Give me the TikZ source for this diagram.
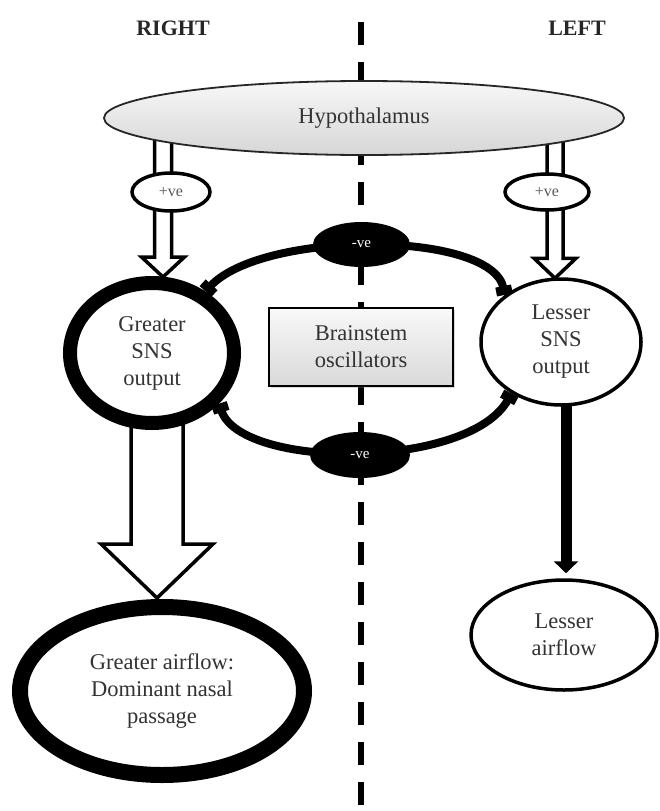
\documentclass[tikz,border=0pt]{standalone}
\usepackage{fontspec}
\setmainfont{Liberation Serif}
\usetikzlibrary{arrows.meta,shapes.geometric,calc,shadows}
\pgfdeclarelayer{bg}
\pgfdeclarelayer{paper}
\pgfsetlayers{paper,bg,main}
\begin{document}
\begin{tikzpicture}[x=1pt,y=-1pt,
  txt/.style={font=\fontsize{22.5}{27}\selectfont, text=black!80, align=center},
  oval/.style={ellipse, draw, inner sep=0pt, fill=white},
  posve/.style={oval, line width=3.5pt, font=\fontsize{16}{18}\selectfont, text=black!65},
  negve/.style={ellipse, fill=black, inner sep=0pt, text=white, font=\fontsize{15}{17}\selectfont},
  hollow/.style={draw, line width=3.5pt, fill=white, line join=miter},
  fbloop/.style={line width=8pt, {Rectangle[length=9pt,width=16pt]}-{Rectangle[length=9pt,width=16pt]}},
  side/.style={font=\fontsize{22}{26}\selectfont\bfseries, text=black!85},
  divider/.style={line width=6pt, dash pattern=on 23pt off 17pt}
]
\useasboundingbox (0,0) rectangle (660,811);
\begin{pgfonlayer}{paper}
\fill[white] (0,0) rectangle (660,811);
\end{pgfonlayer}
\coordinate (midtop) at (361,22);
\coordinate (midbot) at (361,811);
\coordinate (axL) at (163,0);
\coordinate (axR) at (555,0);
\coordinate (axB) at (157,0);
\coordinate (axS) at (566,0);

\node[side] (rightlbl) at (173,28) {RIGHT};
\node[side] (leftlbl) at (577,28) {LEFT};

\node[ellipse, draw=black!85, line width=1.8pt, top color=gray!6, bottom color=gray!32,
      minimum width=520pt, minimum height=74pt, inner sep=0pt, txt] (hyp) at (364,118) {Hypothalamus};

\node[oval, line width=14pt, minimum width=164pt, minimum height=140pt, txt] (gsns) at (152,353) {Greater\\SNS\\output};
\node[oval, line width=3.5pt, minimum width=160pt, minimum height=126pt, txt] (lsns) at (561,342) {Lesser\\SNS\\output};
\node[oval, line width=16pt, minimum width=284pt, minimum height=168pt, txt] (gair) at (162,691) {Greater airflow:\\Dominant nasal\\passage};
\node[oval, line width=3.5pt, minimum width=186pt, minimum height=110pt, txt] (lair) at (564,635) {Lesser\\airflow};

\node[draw, line width=1.8pt, top color=gray!5, bottom color=gray!30, minimum width=184pt, minimum height=78pt,
      drop shadow={shadow xshift=2pt, shadow yshift=-2pt, opacity=0.3}, txt] (bso) at (361,347) {Brainstem\\oscillators};

\node[posve, minimum width=78pt, minimum height=38pt] (posL) at (171,192) {+ve};
\node[posve, minimum width=84pt, minimum height=36pt] (posR) at (547,192) {+ve};

\begin{pgfonlayer}{bg}
\draw[divider] (midtop) -- (midbot);
% hypothalamus -> greater SNS
\draw[hollow] ($(hyp.center -| axL)+(-8.5,0)$) -- ($(gsns.north -| axL)+(-8.5,-19)$) -- ++(-13,0)
   -- ($(gsns.north -| axL)+(0,1)$) -- ($(gsns.north -| axL)+(21.5,-19)$) -- ++(-13,0)
   -- ($(hyp.center -| axL)+(8.5,0)$);
% hypothalamus -> lesser SNS
\draw[hollow] ($(hyp.center -| axR)+(-8,0)$) -- ($(lsns.north -| axR)+(-8,-19)$) -- ++(-13,0)
   -- ($(lsns.north -| axR)+(0,1)$) -- ($(lsns.north -| axR)+(21,-19)$) -- ++(-13,0)
   -- ($(hyp.center -| axR)+(8,0)$);
% greater SNS -> greater airflow
\draw[hollow] ($(gsns.center -| axB)+(-26,0)$) -- ($(gair.north -| axB)+(-26,-55)$) -- ++(-30,0)
   -- ($(gair.north -| axB)+(0,-1)$) -- ($(gair.north -| axB)+(56,-55)$) -- ++(-30,0)
   -- ($(gsns.center -| axB)+(26,0)$);
% lesser SNS -> lesser airflow
\draw[line width=11pt, -{Triangle[length=12pt,width=24pt]}] (lsns.center -| axS) -- ($(lair.north -| axS)+(0,-5)$);
% mutual inhibition loops
\draw[fbloop] (lsns.140) .. controls (492,230) and (262,230) .. (gsns.49);
\draw[fbloop] (gsns.-37) .. controls (240,470) and (470,470) .. (lsns.226);
\end{pgfonlayer}

\node[negve, minimum width=97pt, minimum height=45pt] (negT) at (361.5,244.5) {-ve};
\node[negve, minimum width=100pt, minimum height=46pt] (negB) at (360,455) {-ve};
\end{tikzpicture}
\end{document}
